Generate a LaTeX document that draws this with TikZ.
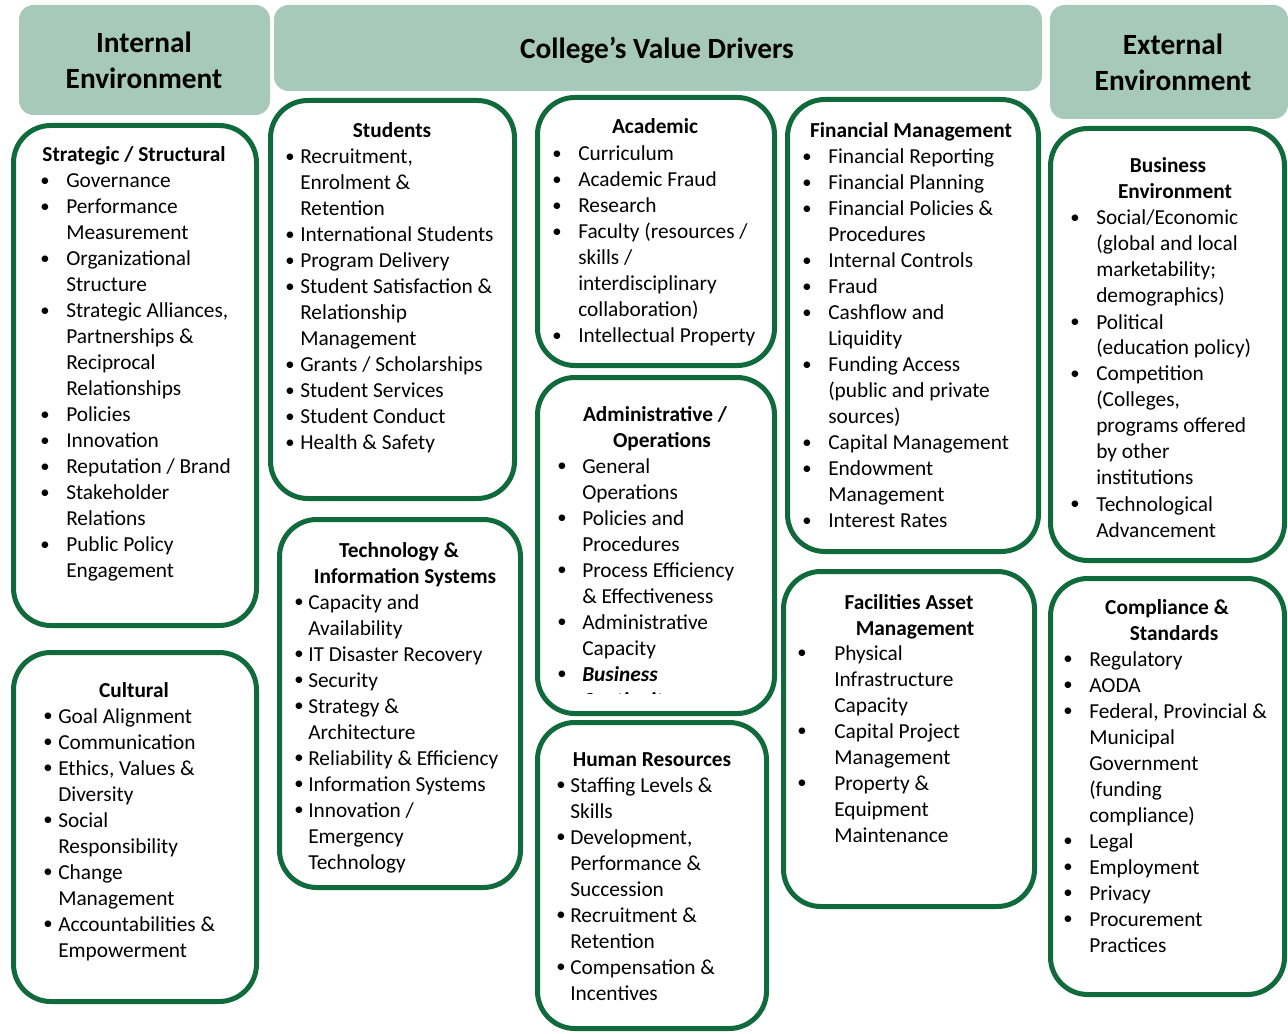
\documentclass[tikz,border=0pt]{standalone}
\usepackage{fontspec}
\setmainfont{Carlito}
\usepackage{array}
\usetikzlibrary{fit}
\definecolor{boxgreen}{RGB}{16,106,60}
\definecolor{headfill}{RGB}{167,201,188}
% bullet list: first column holds the bullet, second the text
\newcommand{\blist}[2]{\begin{tabular}[t]{@{}p{#1}@{}l@{}}#2\end{tabular}}
\newcommand{\ttlines}[1]{\begin{tabular}[t]{@{}c@{}}#1\end{tabular}}
\newcommand{\bu}{{\fontsize{14}{14}\selectfont\raisebox{0.8pt}{\textbullet}}}
\tikzset{
  greenbox/.style={draw=boxgreen, line width=3.75pt, rounded corners=28pt, inner sep=0pt, fill=white},
  headbox/.style={fill=headfill, draw=none, rounded corners=11pt, inner sep=0pt},
  headtext/.style={font=\fontsize{22}{27}\selectfont\bfseries, inner sep=0pt, anchor=base},
  boxtitle/.style={font=\fontsize{16}{19.5}\selectfont\bfseries, inner sep=0pt, anchor=base},
  boxlist/.style={font=\fontsize{16}{19.5}\selectfont, inner sep=0pt, anchor=base west},
}
\begin{document}
\begin{tikzpicture}[x=0.75pt,y=-0.75pt]
\useasboundingbox (0,0) rectangle (1288,1034);

% ---------- header bars ----------
\node[headbox, fit={(19,5) (270,115)}] (hint) {};
\node[headbox, fit={(274,5) (1042,91)}] (hcol) {};
\node[headbox, fit={(1050,5) (1288,119)}] (hext) {};
\node[headtext] (hintt) at (144,53) {\ttlines{Internal\\Environment}};
\node[headtext] (hcolt) at (657,59) {College’s Value Drivers};
\node[headtext] (hextt) at (1173,55) {\ttlines{External\\Environment}};

% ---------- category boxes ----------
\node[greenbox, fit={(13.5,125.5) (256.5,625.5)}] (bstrat) {};
\node[greenbox, fit={(13.5,652.5) (256.5,1001.5)}] (bcult) {};
\node[greenbox, fit={(270.5,100.5) (514.5,498.5)}] (bstud) {};
\node[greenbox, fit={(279.5,519.5) (520.5,887.5)}] (btech) {};
\node[greenbox, fit={(537.5,97.5) (774.5,365.5)}] (bacad) {};
\node[greenbox, fit={(537.5,377.5) (774.5,713.5)}] (badmin) {};
\node[greenbox, fit={(537.5,722.5) (766.5,1028.5)}] (bhr) {};
\node[greenbox, fit={(787.5,99.5) (1038.5,551.5)}] (bfin) {};
\node[greenbox, fit={(783.5,571.5) (1034.5,906.5)}] (bfac) {};
\node[greenbox, fit={(1050.5,128.5) (1284.5,560.5)}] (bbus) {};
\node[greenbox, fit={(1050.5,578.5) (1284.5,994.5)}] (bcomp) {};

% ---------- Strategic / Structural ----------
\node[boxtitle] (tstrat) at (134,162) {Strategic / Structural};
\node[boxlist] (lstrat) at (40,188) {\blist{19.5pt}{%
\bu & Governance\\
\bu & Performance\\
 & Measurement\\
\bu & Organizational\\
 & Structure\\
\bu & Strategic Alliances,\\
 & Partnerships \&\\
 & Reciprocal\\
 & Relationships\\
\bu & Policies\\
\bu & Innovation\\
\bu & Reputation / Brand\\
\bu & Stakeholder\\
 & Relations\\
\bu & Public Policy\\
 & Engagement}};

% ---------- Cultural ----------
\node[boxtitle] (tcult) at (134,697) {Cultural};
\node[boxlist] (lcult) at (43,723) {\blist{11.25pt}{%
\bu & Goal Alignment\\
\bu & Communication\\
\bu & Ethics, Values \&\\
 & Diversity\\
\bu & Social\\
 & Responsibility\\
\bu & Change\\
 & Management\\
\bu & Accountabilities \&\\
 & Empowerment}};

% ---------- Students ----------
\node[boxtitle] (tstud) at (392,138) {Students};
\node[boxlist] (lstud) at (285,164) {\blist{11.25pt}{%
\bu & Recruitment,\\
 & Enrolment \&\\
 & Retention\\
\bu & International Students\\
\bu & Program Delivery\\
\bu & Student Satisfaction \&\\
 & Relationship\\
 & Management\\
\bu & Grants / Scholarships\\
\bu & Student Services\\
\bu & Student Conduct\\
\bu & Health \& Safety}};

% ---------- Technology & Information Systems ----------
\node[boxtitle] (ttech) at (403,557) {\ttlines{Technology \&\hspace*{6pt}\\\hspace*{3pt}Information Systems}};
\node[boxlist] (ltech) at (294,609) {\blist{10.5pt}{%
\bu & Capacity and\\
 & Availability\\
\bu & IT Disaster Recovery\\
\bu & Security\\
\bu & Strategy \&\\
 & Architecture\\
\bu & Reliability \& Efficiency\\
\bu & Information Systems\\
\bu & Innovation /\\
 & Emergency\\
 & Technology}};

% ---------- Academic ----------
\node[boxtitle] (tacad) at (655,134) {Academic};
\node[boxlist] (lacad) at (552,161) {\blist{19.5pt}{%
\bu & Curriculum\\
\bu & Academic Fraud\\
\bu & Research\\
\bu & Faculty (resources /\\
 & skills /\\
 & interdisciplinary\\
 & collaboration)\\
\bu & Intellectual Property}};

% ---------- Administrative / Operations ----------
\node[boxtitle] (tadmin) at (658,421) {\ttlines{Administrative /\hspace*{4.5pt}\\\hspace*{6pt}Operations}};
\begin{scope}
\clip (540,380) rectangle (772,693);
\node[boxlist] (ladmin) at (557,473) {\blist{18.75pt}{%
\bu & General\\
 & Operations\\
\bu & Policies and\\
 & Procedures\\
\bu & Process Efficiency\\
 & \& Effectiveness\\
\bu & Administrative\\
 & Capacity\\
\bu & \textbf{\textit{Business}}\\
 & \textbf{\textit{Continuity}}}};
\end{scope}

% ---------- Human Resources ----------
\node[boxtitle] (thr) at (652,766) {Human Resources};
\node[boxlist] (lhr) at (556,792) {\blist{10.5pt}{%
\bu & Staffing Levels \&\\
 & Skills\\
\bu & Development,\\
 & Performance \&\\
 & Succession\\
\bu & Recruitment \&\\
 & Retention\\
\bu & Compensation \&\\
 & Incentives}};

% ---------- Financial Management ----------
\node[boxtitle] (tfin) at (911,138) {Financial Management};
\node[boxlist] (lfin) at (802,164) {\blist{19.5pt}{%
\bu & Financial Reporting\\
\bu & Financial Planning\\
\bu & Financial Policies \&\\
 & Procedures\\
\bu & Internal Controls\\
\bu & Fraud\\
\bu & Cashflow and\\
 & Liquidity\\
\bu & Funding Access\\
 & (public and private\\
 & sources)\\
\bu & Capital Management\\
\bu & Endowment\\
 & Management\\
\bu & Interest Rates}};

% ---------- Facilities Asset Management ----------
\node[boxtitle] (tfac) at (912,609) {\ttlines{Facilities Asset\hspace*{4.5pt}\\\hspace*{4.5pt}Management}};
\node[boxlist] (lfac) at (797,660) {\blist{27.75pt}{%
\bu & Physical\\
 & Infrastructure\\
 & Capacity\\
\bu & Capital Project\\
 & Management\\
\bu & Property \&\\
 & Equipment\\
 & Maintenance}};

% ---------- Business Environment ----------
\node[boxtitle] (tbus) at (1171,173) {\ttlines{Business\hspace*{4.5pt}\\\hspace*{6pt}Environment}};
\node[boxlist] (lbus) at (1070,225) {\blist{19.5pt}{%
\bu & Social/Economic\\
 & (global and local\\
 & marketability;\\
 & demographics)\\
\bu & Political\\
 & (education policy)\\
\bu & Competition\\
 & (Colleges,\\
 & programs offered\\
 & by other\\
 & institutions\\
\bu & Technological\\
 & Advancement}};

% ---------- Compliance & Standards ----------
\node[boxtitle] (tcomp) at (1170,614) {\ttlines{Compliance \&\hspace*{4.5pt}\\\hspace*{6pt}Standards}};
\node[boxlist] (lcomp) at (1063,666) {\blist{19.5pt}{%
\bu & Regulatory\\
\bu & AODA\\
\bu & Federal, Provincial \&\\
 & Municipal\\
 & Government\\
 & (funding\\
 & compliance)\\
\bu & Legal\\
\bu & Employment\\
\bu & Privacy\\
\bu & Procurement\\
 & Practices}};
\end{tikzpicture}
\end{document}
